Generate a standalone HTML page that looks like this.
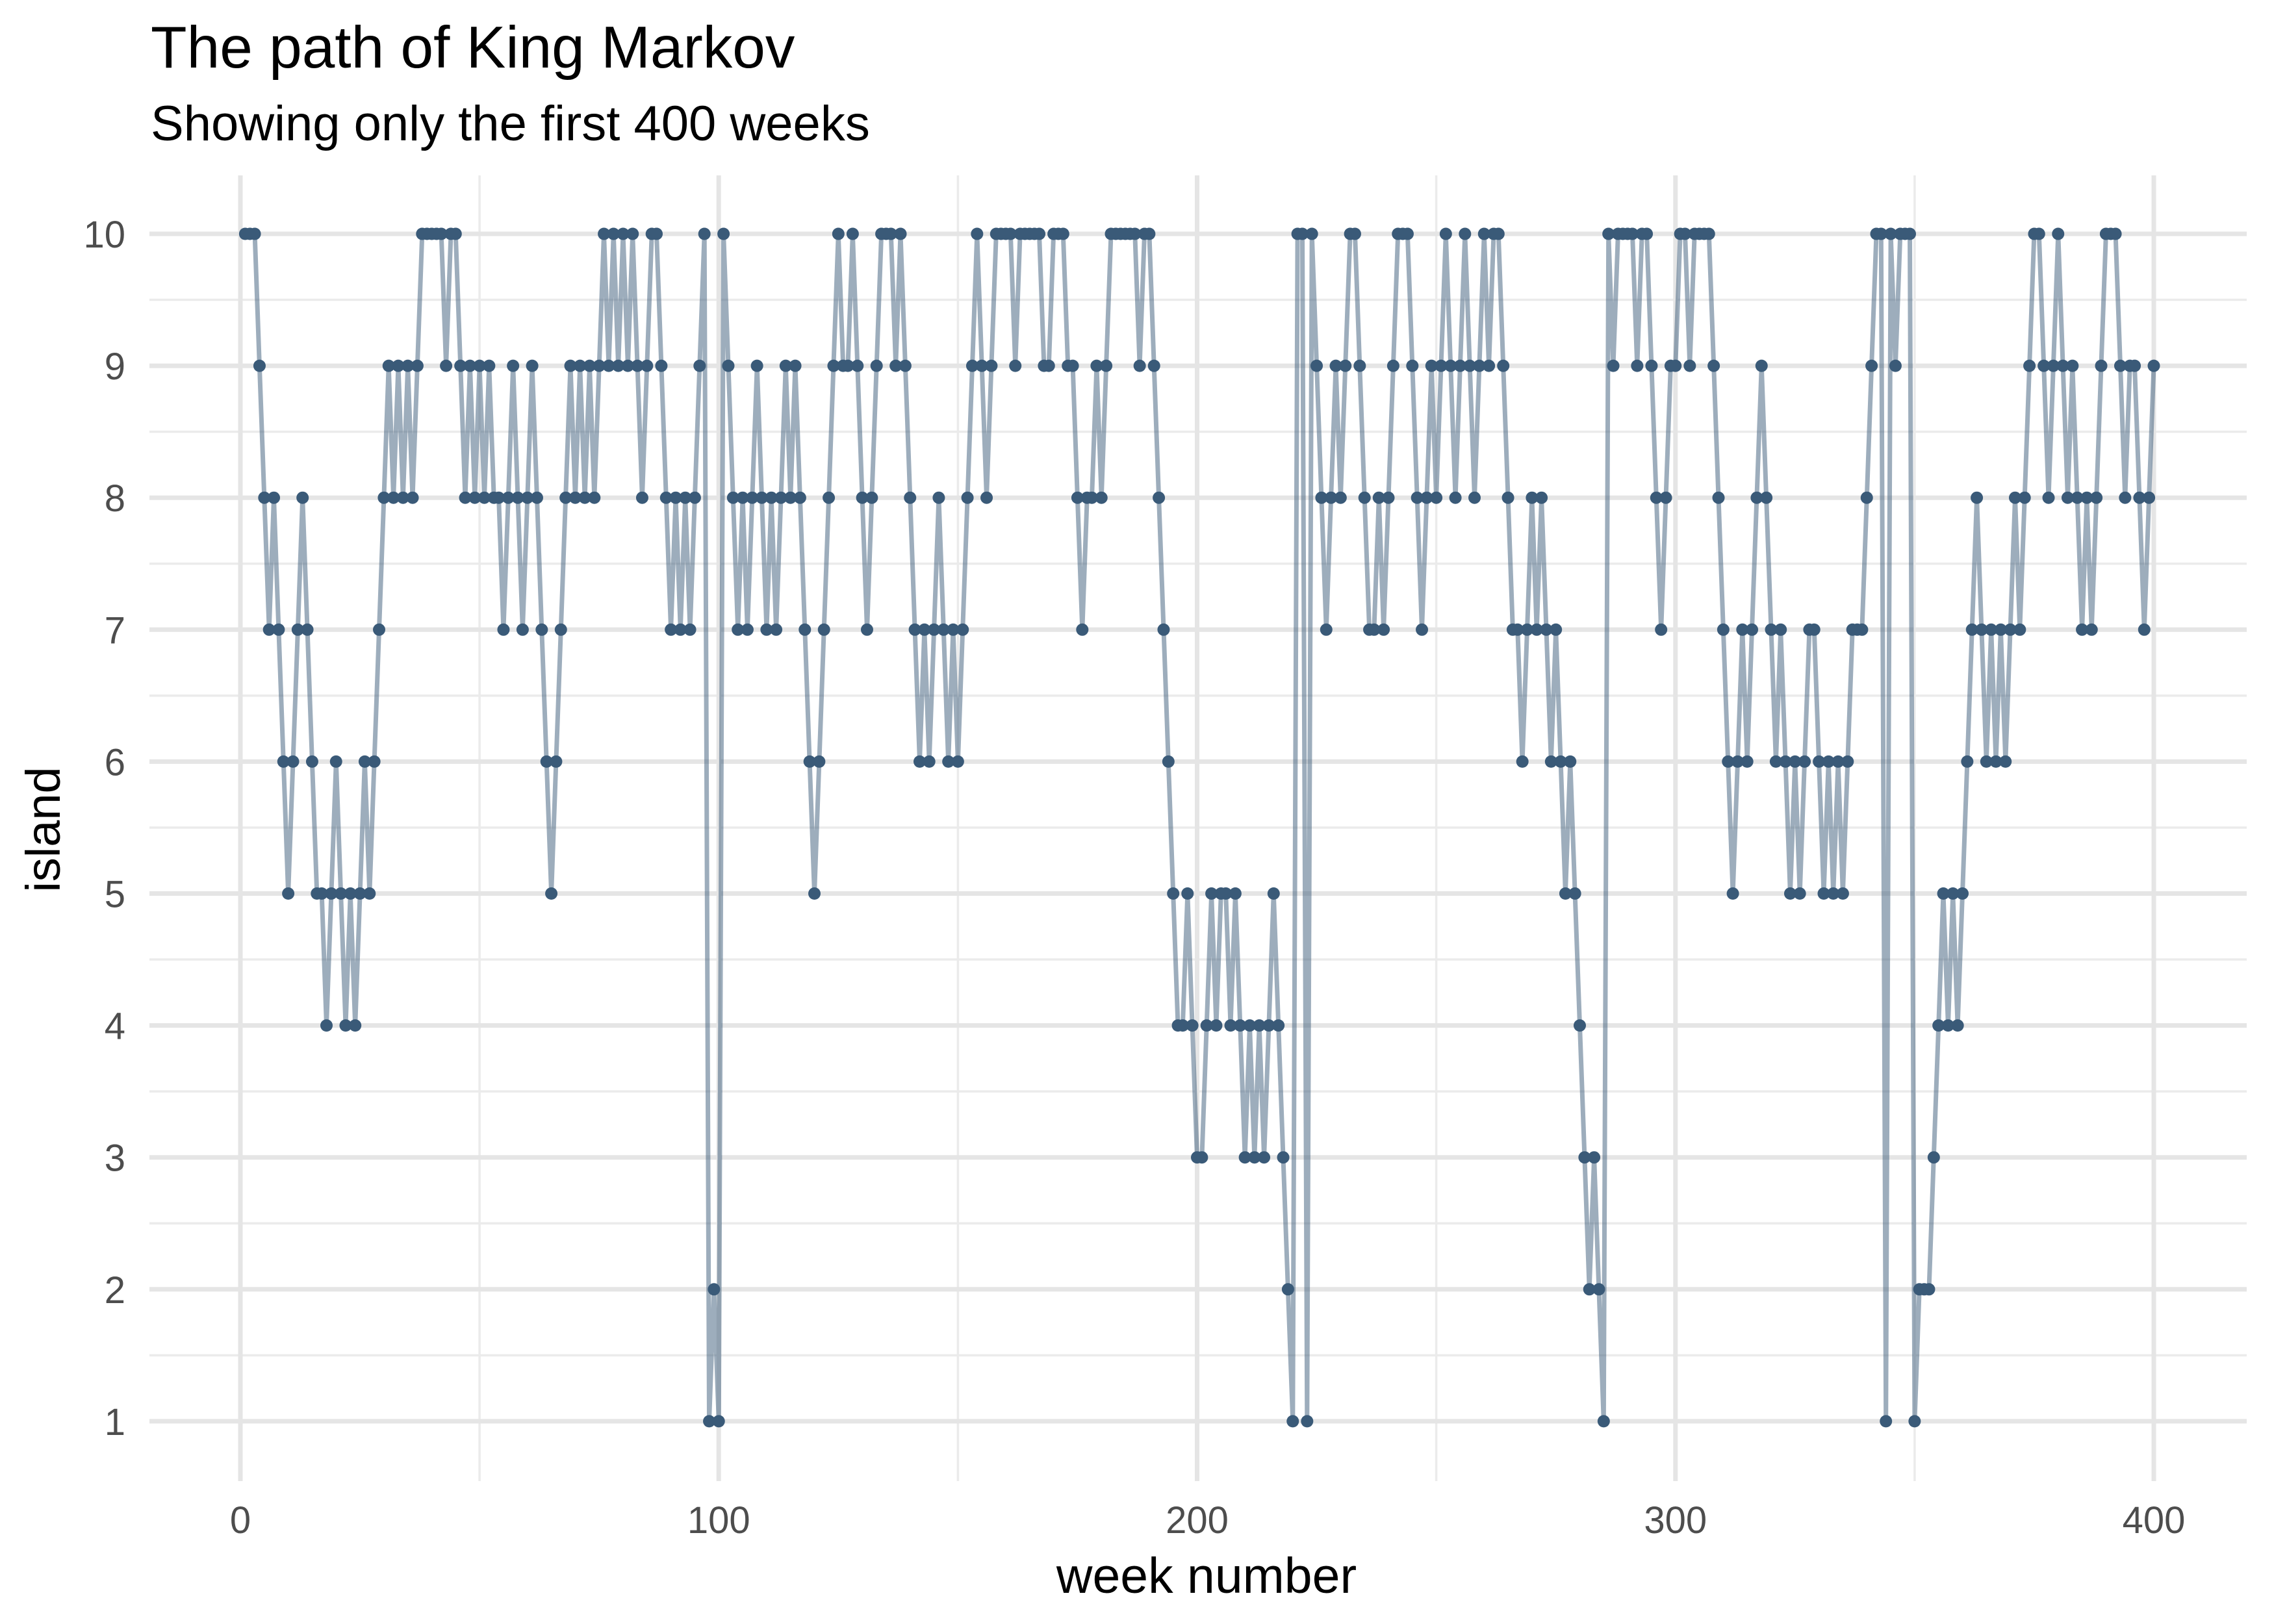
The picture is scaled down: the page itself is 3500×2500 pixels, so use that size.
<!DOCTYPE html>
<html><head><meta charset="utf-8"><title>The path of King Markov</title>
<style>
html,body{margin:0;padding:0;background:#fff;}
svg{display:block;font-family:"Liberation Sans",Arial,sans-serif;}
</style></head>
<body>
<svg id="chart" width="3500" height="2500" viewBox="0 0 3500 2500" xmlns="http://www.w3.org/2000/svg">
<rect x="0" y="0" width="3500" height="2500" fill="#ffffff"/>
<g id="grid"></g>
<g id="series"></g>
<g id="axes"></g>
<text x="232" y="104" font-size="91" fill="#000">The path of King Markov</text>
<text x="232" y="216" font-size="76" fill="#000">Showing only the first 400 weeks</text>
<text x="1857" y="2452" font-size="77" text-anchor="middle" fill="#000">week number</text>
<text x="0" y="0" font-size="74" text-anchor="middle" fill="#000" transform="translate(92,1277) rotate(-90)">island</text>
</svg>
<script>
const islands = [
10,10,10,9,8,7,8,7,6,5,
6,7,8,7,6,5,5,4,5,6,
5,4,5,4,5,6,5,6,7,8,
9,8,9,8,9,8,9,10,10,10,
10,10,9,10,10,9,8,9,8,9,
8,9,8,8,7,8,9,8,7,8,
9,8,7,6,5,6,7,8,9,8,
9,8,9,8,9,10,9,10,9,10,
9,10,9,8,9,10,10,9,8,7,
8,7,8,7,8,9,10,1,2,1,
10,9,8,7,8,7,8,9,8,7,
8,7,8,9,8,9,8,7,6,5,
6,7,8,9,10,9,9,10,9,8,
7,8,9,10,10,10,9,10,9,8,
7,6,7,6,7,8,7,6,7,6,
7,8,9,10,9,8,9,10,10,10,
10,9,10,10,10,10,10,9,9,10,
10,10,9,9,8,7,8,8,9,8,
9,10,10,10,10,10,10,9,10,10,
9,8,7,6,5,4,4,5,4,3,
3,4,5,4,5,5,4,5,4,3,
4,3,4,3,4,5,4,3,2,1,
10,10,1,10,9,8,7,8,9,8,
9,10,10,9,8,7,7,8,7,8,
9,10,10,10,9,8,7,8,9,8,
9,10,9,8,9,10,9,8,9,10,
9,10,10,9,8,7,7,6,7,8,
7,8,7,6,7,6,5,6,5,4,
3,2,3,2,1,10,9,10,10,10,
10,9,10,10,9,8,7,8,9,9,
10,10,9,10,10,10,10,9,8,7,
6,5,6,7,6,7,8,9,8,7,
6,7,6,5,6,5,6,7,7,6,
5,6,5,6,5,6,7,7,7,8,
9,10,10,1,10,9,10,10,10,1,
2,2,2,3,4,5,4,5,4,5,
6,7,8,7,6,7,6,7,6,7,
8,7,8,9,10,10,9,8,9,10,
9,8,9,8,7,8,7,8,9,10,
10,10,9,8,9,9,8,7,8,9
];
const weeks = islands.map((v, i) => i + 1);
const xTicks = [0, 100, 200, 300, 400];
const xMinor = [50, 150, 250, 350];
const yTicks = [1, 2, 3, 4, 5, 6, 7, 8, 9, 10];
const yMinor = [1.5, 2.5, 3.5, 4.5, 5.5, 6.5, 7.5, 8.5, 9.5];

const NS = "http://www.w3.org/2000/svg";
const X0 = 370, XK = 7.3625;
const Y10 = 360, YK = 203.1;
const panel = {left: 230, right: 3458, top: 270, bottom: 2280};
function xs(w) { return X0 + w * XK; }
function ys(v) { return Y10 + (10 - v) * YK; }
function mk(tag, attrs) { const e = document.createElementNS(NS, tag); for (const k in attrs) e.setAttribute(k, attrs[k]); return e; }

const grid = document.getElementById('grid');
yMinor.forEach(v => {
  const l = mk('line', {x1: panel.left, x2: panel.right, y1: ys(v), y2: ys(v), stroke: '#ebebeb', 'stroke-width': 3.5});
  
  
  grid.appendChild(l);
});
xMinor.forEach(w => {
  const l = mk('line', {x1: xs(w), x2: xs(w), y1: panel.top, y2: panel.bottom, stroke: '#ebebeb', 'stroke-width': 3.5});
  
  
  grid.appendChild(l);
});
yTicks.forEach(v => {
  const l = mk('line', {x1: panel.left, x2: panel.right, y1: ys(v), y2: ys(v), stroke: '#e5e5e5', 'stroke-width': 7});
  
  
  grid.appendChild(l);
});
xTicks.forEach(w => {
  const l = mk('line', {x1: xs(w), x2: xs(w), y1: panel.top, y2: panel.bottom, stroke: '#e5e5e5', 'stroke-width': 7});
  
  
  grid.appendChild(l);
});

const axes = document.getElementById('axes');
yTicks.forEach(v => {
  const t = mk('text', {x: 193, y: ys(v) + 21, 'font-size': 58, fill: '#4d4d4d', 'text-anchor': 'end'});
  t.textContent = String(v);
  
  
  axes.appendChild(t);
});
xTicks.forEach(w => {
  const t = mk('text', {x: xs(w), y: 2360, 'font-size': 58, fill: '#4d4d4d', 'text-anchor': 'middle'});
  t.textContent = String(w);
  
  
  axes.appendChild(t);
});

const series = document.getElementById('series');
const pts = weeks.map((w, i) => xs(w).toFixed(1) + ',' + ys(islands[i]).toFixed(1)).join(' ');
const line = mk('polyline', {points: pts, fill: 'none', stroke: '#3b5b79', 'stroke-opacity': 0.5, 'stroke-width': 7, 'stroke-linejoin': 'round'});


series.appendChild(line);
weeks.forEach((w, i) => {
  const c = mk('circle', {cx: xs(w), cy: ys(islands[i]), r: 9.5, fill: '#3a5a78'});
  
  
  series.appendChild(c);
});
</script>
</body></html>
